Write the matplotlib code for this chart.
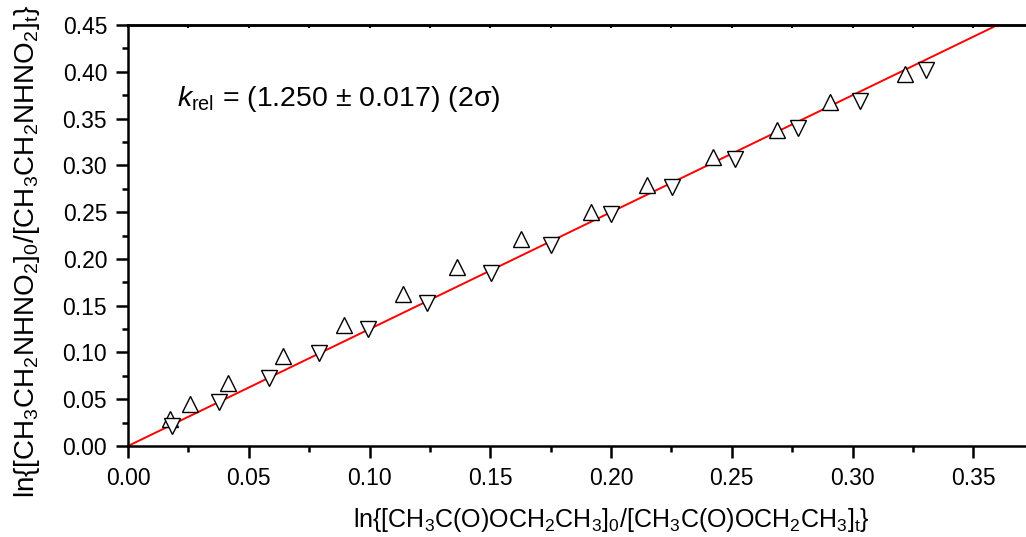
import matplotlib
matplotlib.use("Agg")
import matplotlib.pyplot as plt
from matplotlib.ticker import MultipleLocator, FormatStrFormatter, NullFormatter

plt.rcParams['font.family'] = ['Liberation Sans', 'DejaVu Sans']
plt.rcParams['mathtext.fontset'] = 'custom'
plt.rcParams['mathtext.rm'] = 'Liberation Sans'
plt.rcParams['mathtext.it'] = 'Liberation Sans:italic'
plt.rcParams['mathtext.default'] = 'regular'

# data
up_x = [0.0174, 0.0256, 0.0412, 0.0643, 0.0894, 0.1140, 0.1362, 0.1628, 0.1916, 0.2148, 0.2421, 0.2686, 0.2906, 0.3218]
up_y = [0.0285, 0.0446, 0.0670, 0.0962, 0.1290, 0.1624, 0.1910, 0.2208, 0.2497, 0.2792, 0.3084, 0.3376, 0.3675, 0.3978]
down_x = [0.0181, 0.0378, 0.0584, 0.0791, 0.0995, 0.1237, 0.1504, 0.1752, 0.2001, 0.2253, 0.2513, 0.2773, 0.3032, 0.3304]
down_y = [0.0214, 0.0473, 0.0726, 0.0990, 0.1247, 0.1525, 0.1852, 0.2151, 0.2476, 0.2771, 0.3070, 0.3394, 0.3689, 0.4017]
k_rel = 1.250
fit_x = [0.0, 0.40]
fit_y = [k_rel * v for v in fit_x]

W, H = 1026, 537
fig = plt.figure(figsize=(W/100, H/100), dpi=100)
ax = fig.add_axes([128/W, 1-446/H, 1-128/W, (446-25)/H])

ax.plot(fit_x, fit_y, color='red', lw=1.4, zorder=2)
ax.plot(up_x, up_y, linestyle='none', marker='^', ms=11.5, mfc='white', mec='black', mew=1.0, zorder=3)
ax.plot(down_x, down_y, linestyle='none', marker='v', ms=11.5, mfc='white', mec='black', mew=1.0, zorder=3)

ax.set_xlim(0, 0.3718)
ax.set_ylim(0, 0.45)
ax.xaxis.set_major_locator(MultipleLocator(0.05))
ax.xaxis.set_minor_locator(MultipleLocator(0.025))
ax.yaxis.set_major_locator(MultipleLocator(0.05))
ax.yaxis.set_minor_locator(MultipleLocator(0.025))
ax.xaxis.set_major_formatter(FormatStrFormatter('%.2f'))
ax.yaxis.set_major_formatter(FormatStrFormatter('%.2f'))

for s in ['left', 'bottom', 'top']:
    ax.spines[s].set_linewidth(1.8)
ax.spines['right'].set_visible(False)

ax.tick_params(which='major', direction='out', length=8.5, width=1.8, labelsize=16.5, pad=6.5)
ax.tick_params(which='minor', direction='out', length=4.5, width=1.8)
ax.tick_params(axis='y', right=False)
ax.tick_params(axis='x', top=False)

sec = ax.secondary_xaxis('top')
sec.xaxis.set_major_locator(MultipleLocator(0.025))
sec.xaxis.set_major_formatter(NullFormatter())
sec.tick_params(direction='in', length=2.5, width=1.5)
sec.spines['top'].set_linewidth(1.8)

fig.text(611/W, 1-527/H, r'ln{[CH$_3$C(O)OCH$_2$CH$_3$]$_0$/[CH$_3$C(O)OCH$_2$CH$_3$]$_t$}',
         fontsize=18, ha='center', va='baseline')
fig.text(27/W, 1-251/H, r'ln{[CH$_3$CH$_2$NHNO$_2$]$_0$/[CH$_3$CH$_2$NHNO$_2$]$_t$}',
         fontsize=20, ha='center', va='center', rotation=90)

ax.text(0.0202, 0.3632, r'$\mathit{k}_{rel}$ = (1.250 $\pm$ 0.017) (2σ)', fontsize=20.5, va='baseline', ha='left')

fig.savefig('out.png', dpi=100)
